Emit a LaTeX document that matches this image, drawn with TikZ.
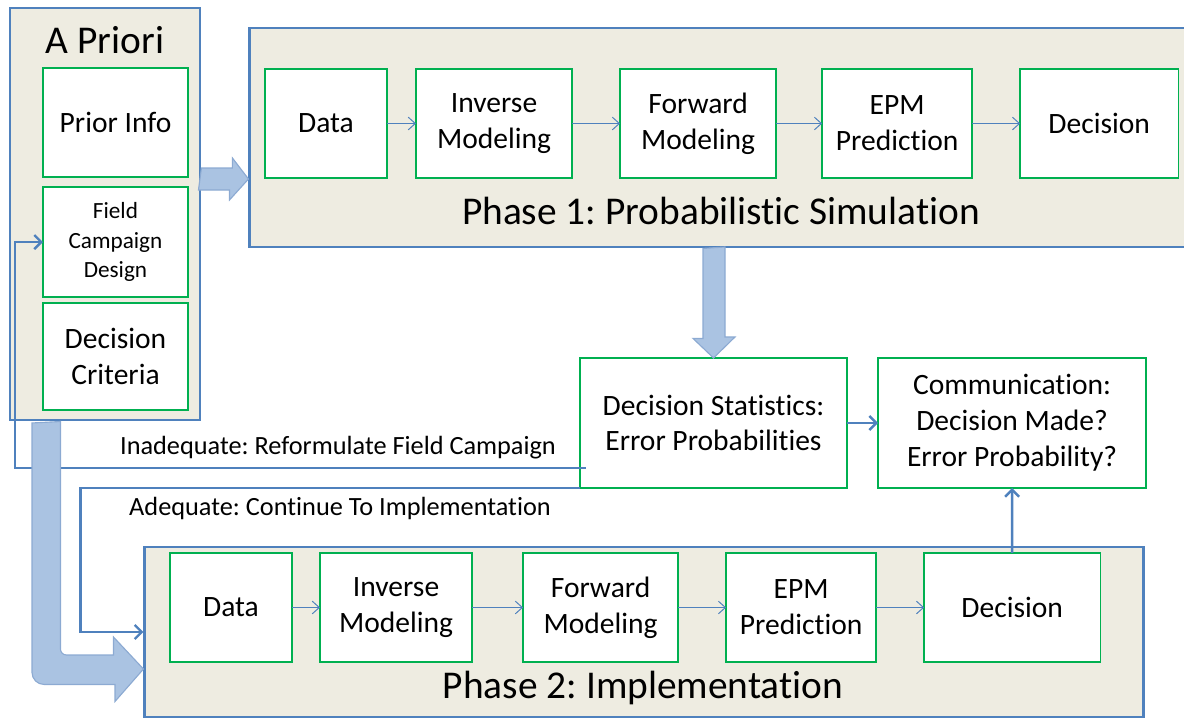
\documentclass[tikz,border=0pt]{standalone}
\usepackage{fontspec}
\setmainfont{Carlito}[Ligatures=NoCommon]
\usetikzlibrary{arrows.meta,positioning,calc}

\definecolor{tan}{RGB}{238,236,225}
\definecolor{frameblue}{RGB}{79,129,189}
\definecolor{boxgreen}{RGB}{0,176,80}
\definecolor{fatfill}{RGB}{170,195,226}
\definecolor{fatedge}{RGB}{140,170,210}

\begin{document}
\frenchspacing
\begin{tikzpicture}[
        x=0.025cm, y=-0.025cm,
        font=\fontsize{21}{25.5}\selectfont,
        phase/.style={rectangle, draw=frameblue, line width=2pt, fill=tan, inner sep=0pt},
        phasetitle/.style={font=\fontsize{28}{33}\selectfont},
        block/.style={rectangle, draw=boxgreen, line width=1pt, fill=white, align=center, inner sep=0pt, outer sep=0pt, minimum height=2.725cm},
        lbl/.style={font=\fontsize{18.7}{22}\selectfont},
        flow/.style={draw=frameblue, line width=0.7pt, -{Straight Barb[length=5pt,width=9pt]}},
        fbarrow/.style={draw=frameblue, line width=1.7pt, -{Straight Barb[length=5pt,width=10pt]}},
        fat/.style={fill=fatfill, draw=fatedge, line width=0.8pt}
        ]
        \useasboundingbox (0,0) rectangle (1184,719);
        \clip (0,0) rectangle (1184,719);

        % containers
        \node[phase, minimum width=4.75cm, minimum height=10.3cm] (apriori) at (105,214) {};
        \node[phasetitle] (aptitle) at (105,40) {A Priori};
        \node[phase, minimum width=23.75cm, minimum height=5.475cm] (phase1) at (725,137.5) {};
        \node[phasetitle] (p1title) at (721,211) {Phase 1: Probabilistic Simulation};
        \node[phase, minimum width=24.95cm, minimum height=4.25cm] (phase2) at (644,632) {};
        \node[phasetitle] (p2title) at (643,688) {Phase 2: Implementation};

        % a priori column
        \node[block, minimum width=3.625cm] (prior) at (115.5,122.5) {Prior Info};
        \node[block, minimum width=3.625cm, minimum height=2.75cm, below=0.25cm of prior, font=\fontsize{16.5}{21}\selectfont] (field) {Field\\Campaign\\Design};
        \node[block, minimum width=3.625cm, minimum height=2.675cm, below=0.15cm of field] (crit) {Decision\\Criteria};

        % phase 1 row
        \node[block, minimum width=3.05cm] (data1) at (326,123.5) {Data};
        \node[block, minimum width=3.9cm, right=0.725cm of data1] (inv1) {Inverse\\Modeling};
        \node[block, minimum width=3.9cm, right=1.2cm of inv1] (fwd1) {Forward\\Modeling};
        \node[block, minimum width=3.75cm, right=1.15cm of fwd1] (epm1) {EPM\\Prediction};
        \node[block, minimum width=3.95cm, right=1.2cm of epm1] (dec1) {Decision};

        % phase 2 row
        \node[block, minimum width=3.05cm] (data2) at (231,607.5) {Data};
        \node[block, minimum width=3.8cm, right=0.7cm of data2] (inv2) {Inverse\\Modeling};
        \node[block, minimum width=3.875cm, right=1.275cm of inv2] (fwd2) {Forward\\Modeling};
        \node[block, minimum width=3.75cm, right=1.2cm of fwd2] (epm2) {EPM\\Prediction};
        \node[block, minimum width=4.4cm, right=1.2cm of epm2] (dec2) {Decision};

        % statistics and outcome
        \node[block, minimum width=6.675cm, minimum height=3.25cm] (stats) at (713.5,423) {Decision Statistics:\\Error Probabilities};
        \node[block, minimum width=6.7cm, minimum height=3.25cm, right=0.775cm of stats] (comm) {Communication:\\Decision Made?\\Error Probability?};

        \foreach \a/\b in {data1/inv1, inv1/fwd1, fwd1/epm1, epm1/dec1, data2/inv2, inv2/fwd2, fwd2/epm2, epm2/dec2}
            \draw[flow] (\a) -- (\b);

        \draw[fbarrow] (stats) -- (comm);
        \draw[fbarrow] (dec2) -- (comm);

        % feedback loops
        \draw[fbarrow] ([shift={(6,-20)}]stats.south west) -| ([shift={(-28,0)}]field.west) -- (field.west);
        \draw[fbarrow] (stats.south west) -| ([shift={(-63,0)}]phase2.west) -- (phase2.west);
        \node[lbl] (inadequate) at (338,448) {Inadequate: Reformulate Field Campaign};
        \node[lbl] (adequate) at (340,508) {Adequate: Continue To Implementation};

        % block arrows
        \draw[fat] ([shift={(0,-46)}]apriori.east) -- ++(31,0) -- ++(0,-10) -- ($(phase1.west)+(0,41.5)$) -- ++(-19,21) -- ++(0,-10) -- ++(-31,0) -- cycle;
        \draw[fat] ([shift={(-22,0)}]phase1.south) -- ++(0,90) -- ++(-10,0) -- (stats.north) -- ++(21.5,-21) -- ++(-10,0) -- ++(0,-90) -- cycle;
        \draw[fat] ([shift={(-73,1.5)}]apriori.south) -- ++(0,178.5) [rounded corners=0.3cm] -- ++(0,83) -- ++(48,0) [sharp corners] -- ++(35,0) -- ++(0,17)
            -- ($(phase2.west)+(0,37)$) -- ++(-30,-32) -- ++(0,18) -- ++(-25,0) [rounded corners=0.15cm] -- ++(-28,0) -- ++(0,-25) [sharp corners] -- ++(0,-208.5) -- cycle;
\end{tikzpicture}
\end{document}
